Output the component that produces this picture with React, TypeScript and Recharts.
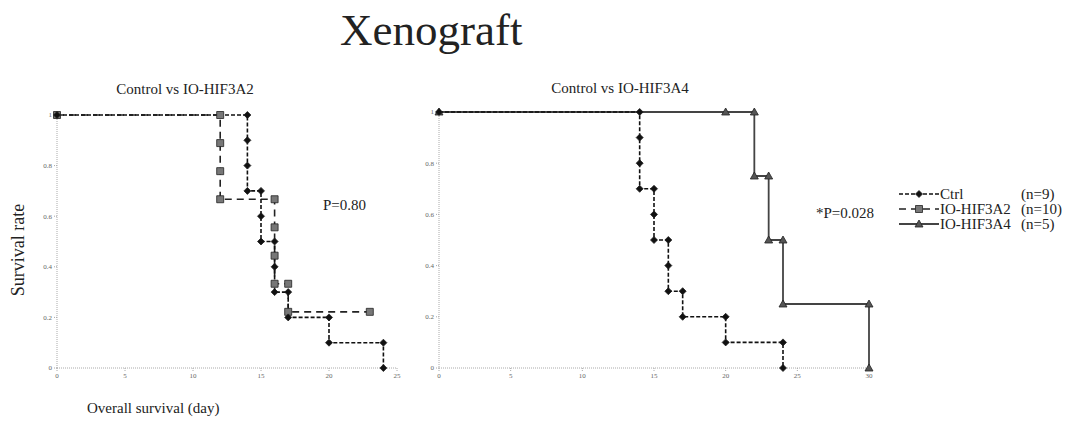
import React from 'react'
import { LineChart, Line, XAxis, YAxis } from 'recharts'

const SERIF = '"Liberation Serif", "DejaVu Serif", serif'

// Kaplan-Meier steps (day, survival) in drawing order
const ctrlDays = [0, 14, 14, 14, 14, 15, 15, 15, 16, 16, 16, 17, 17, 20, 20, 24, 24]
const ctrlSurv = [1, 1, 0.9, 0.8, 0.7, 0.7, 0.6, 0.5, 0.5, 0.4, 0.3, 0.3, 0.2, 0.2, 0.1, 0.1, 0]

const a2Days = [0, 12, 12, 12, 12, 16, 16, 16, 16, 17, 17, 23]
const a2Surv = [1, 1, 0.889, 0.778, 0.667, 0.667, 0.556, 0.444, 0.333, 0.333, 0.222, 0.222]

const a4Days = [0, 20, 22, 22, 23, 23, 24, 24, 30, 30]
const a4Surv = [1, 1, 1, 0.75, 0.75, 0.5, 0.5, 0.25, 0.25, 0]

const yTicks = [0, 0.2, 0.4, 0.6, 0.8, 1]
const xTicksLeft = [0, 5, 10, 15, 20, 25]
const xTicksRight = [0, 5, 10, 15, 20, 25, 30]

const legendRows = [
  { name: 'Ctrl', n: '(n=9)', shape: 'diamond' },
  { name: 'IO-HIF3A2', n: '(n=10)', shape: 'square' },
  { name: 'IO-HIF3A4', n: '(n=5)', shape: 'triangle' },
]

const toPoints = (days: number[], surv: number[]) => days.map((d, i) => ({ day: d, s: surv[i] }))

const STYLE: Record<string, { stroke: string; dash?: string; width: number; fill: string }> = {
  diamond: { stroke: '#111', dash: '4 2', width: 1.6, fill: '#111' },
  square: { stroke: '#222', dash: '7 5', width: 1.6, fill: '#777' },
  triangle: { stroke: '#444', width: 1.8, fill: '#555' },
}

function markerPath(shape: string, cx: number, cy: number) {
  if (shape === 'diamond') return `M${cx},${cy - 3.5}L${cx + 3.5},${cy}L${cx},${cy + 3.5}L${cx - 3.5},${cy}Z`
  if (shape === 'square') return `M${cx - 3.5},${cy - 3.5}h7v7h-7Z`
  return `M${cx},${cy - 4}L${cx + 4},${cy + 3}L${cx - 4},${cy + 3}Z`
}

const makeDot = (shape: string) => (props: any) => {
  const { cx, cy, index } = props
  if (cx == null || cy == null) return <g key={`n${index}`} />
  return (
    <path key={`${shape}${index}`} d={markerPath(shape, cx, cy)}
      fill={STYLE[shape].fill} stroke="#222" strokeWidth={0.8} />
  )
}

const fmtY = (v: number) => (v === 0 || v === 1 ? String(v) : v.toFixed(1))
const tickStyle = { fontSize: 7, fill: '#666', stroke: 'none', fontFamily: SERIF }

function series(data: { day: number; s: number }[], shape: string) {
  const st = STYLE[shape]
  return (
    <Line key={shape} data={data} dataKey="s" type="linear" stroke={st.stroke}
      strokeWidth={st.width} strokeDasharray={st.dash} dot={makeDot(shape)}
      activeDot={false} isAnimationActive={false} />
  )
}

export default function App() {
  return (
    <div style={{ position: 'absolute', left: 0, top: 0, width: 1068, height: 421, background: '#fff', fontFamily: SERIF, color: '#222' }}>
      <div style={{ position: 'absolute', left: 340, top: 4, fontSize: 45, lineHeight: '52px' }}>Xenograft</div>

      <div style={{ position: 'absolute', left: 85, width: 200, top: 81, textAlign: 'center', fontSize: 15, lineHeight: '16px' }}>Control vs IO-HIF3A2</div>
      <div style={{ position: 'absolute', left: 520, width: 200, top: 80, textAlign: 'center', fontSize: 15, lineHeight: '16px' }}>Control vs IO-HIF3A4</div>

      <div style={{ position: 'absolute', left: 18, top: 250, fontSize: 18, lineHeight: '18px', whiteSpace: 'nowrap', transform: 'translate(-50%, -50%) rotate(-90deg)' }}>Survival rate</div>
      <div style={{ position: 'absolute', left: 87, top: 400, fontSize: 15, lineHeight: '16px', whiteSpace: 'nowrap' }}>Overall survival (day)</div>

      <div style={{ position: 'absolute', left: 323, top: 197, fontSize: 15, lineHeight: '16px' }}>P=0.80</div>
      <div style={{ position: 'absolute', left: 816, top: 205, fontSize: 15, lineHeight: '16px' }}>*P=0.028</div>

      <div style={{ position: 'absolute', left: 0, top: 100 }}>
        <LineChart width={420} height={290} margin={{ top: 15, right: 23, bottom: 8, left: 37 }}>
          <XAxis dataKey="day" type="number" domain={[0, 25]} ticks={xTicksLeft} allowDuplicatedCategory={false}
            height={14} tick={tickStyle} tickSize={3} stroke="#aaa" strokeDasharray="1 1" />
          <YAxis type="number" domain={[0, 1]} ticks={yTicks} tickFormatter={fmtY} width={20}
            tick={tickStyle} tickSize={3} stroke="#aaa" strokeDasharray="1 1" />
          {series(toPoints(a2Days, a2Surv), 'square')}
          {series(toPoints(ctrlDays, ctrlSurv), 'diamond')}
        </LineChart>
      </div>

      <div style={{ position: 'absolute', left: 400, top: 100 }}>
        <LineChart width={480} height={290} margin={{ top: 12, right: 11, bottom: 8, left: 19 }}>
          <XAxis dataKey="day" type="number" domain={[0, 30]} ticks={xTicksRight} allowDuplicatedCategory={false}
            height={14} tick={tickStyle} tickSize={3} stroke="#aaa" strokeDasharray="1 1" />
          <YAxis type="number" domain={[0, 1]} ticks={yTicks} tickFormatter={fmtY} width={20}
            tick={tickStyle} tickSize={3} stroke="#aaa" strokeDasharray="1 1" />
          {series(toPoints(a4Days, a4Surv), 'triangle')}
          {series(toPoints(ctrlDays, ctrlSurv), 'diamond')}
        </LineChart>
      </div>

      {legendRows.map((r, i) => {
        const st = STYLE[r.shape]
        const top = 186 + i * 15
        return (
          <div key={r.name} style={{ position: 'absolute', left: 899, top, height: 16, fontSize: 15, lineHeight: '16px', whiteSpace: 'nowrap' }}>
            <svg width={40} height={16} style={{ position: 'absolute', left: 0, top: 0 }}>
              <line x1={0} y1={8} x2={40} y2={8} stroke={st.stroke} strokeWidth={st.width} strokeDasharray={st.dash} />
              <path d={markerPath(r.shape, 20, 8)} fill={st.fill} stroke="#222" strokeWidth={0.8} />
            </svg>
            <span style={{ position: 'absolute', left: 41 }}>{r.name}</span>
            <span style={{ position: 'absolute', left: 122 }}>{r.n}</span>
          </div>
        )
      })}
    </div>
  )
}
